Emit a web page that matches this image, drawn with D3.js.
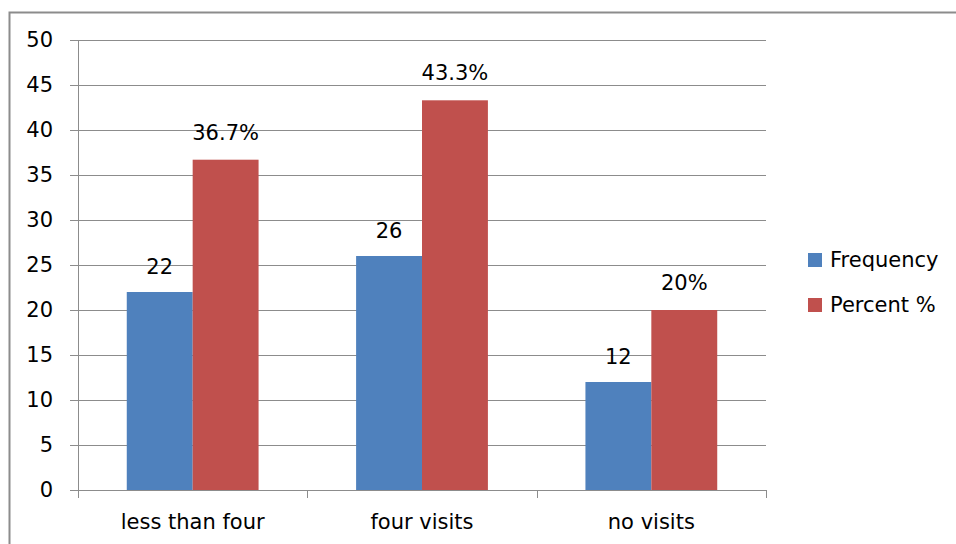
<!DOCTYPE html>
<html>
<head>
<meta charset="utf-8">
<script src="https://cdn.jsdelivr.net/npm/d3@7"></script>
<style>
body { margin: 0; background: #fff; }
text { font-family: "DejaVu Sans", sans-serif; fill: #000; }
</style>
</head>
<body>
<div class="chart"></div>
<script>
var categories = ['less than four', 'four visits', 'no visits']
var seriesNames = ['Frequency', 'Percent %']
var frequency = [22, 26, 12]
var percent = [36.7, 43.3, 20]
var percentLabels = ['36.7%', '43.3%', '20%']
var yTicks = [0, 5, 10, 15, 20, 25, 30, 35, 40, 45, 50]
var colors = ['#4f81bd', '#c0504d']

var width = 956
var height = 544
var margin = {top: 40, right: 190, bottom: 54, left: 78}
var fontSize = '21px'

var svg = d3.select('.chart')
  .append('svg')
  .attr('width', width)
  .attr('height', height)

// outer frame
svg.append('rect')
  .attr('x', 9.5)
  .attr('y', 12.5)
  .attr('width', 960)
  .attr('height', 560)
  .attr('fill', 'none')
  .attr('stroke', '#8c8c8c')
  .attr('stroke-width', 2)

var y = d3.scaleLinear()
  .domain([0, 50])
  .range([height - margin.bottom, margin.top])

var x0 = d3.scaleBand()
  .domain(categories)
  .range([margin.left, width - margin.right])
  .paddingInner(0)
  .paddingOuter(0)

var x1 = d3.scaleBand()
  .domain(seriesNames)
  .range([0, x0.bandwidth()])
  .paddingOuter(0.74)
  .paddingInner(0)

// gridlines
svg.append('g')
  .selectAll('line')
  .data(yTicks)
  .enter()
  .append('line')
  .attr('x1', margin.left - 8)
  .attr('x2', width - margin.right)
  .attr('y1', function(d) { return Math.round(y(d)) + 0.5 })
  .attr('y2', function(d) { return Math.round(y(d)) + 0.5 })
  .attr('stroke', '#8c8c8c')
  .attr('stroke-width', 1)

// y axis line
svg.append('line')
  .attr('x1', margin.left + 0.5)
  .attr('x2', margin.left + 0.5)
  .attr('y1', y(50))
  .attr('y2', y(0))
  .attr('stroke', '#8c8c8c')

// y tick labels
svg.append('g')
  .selectAll('text')
  .data(yTicks)
  .enter()
  .append('text')
  .attr('x', 53)
  .attr('y', function(d) { return y(d) })
  .attr('dy', '0.35em')
  .attr('text-anchor', 'end')
  .style('font-size', fontSize)
  .text(function(d) { return d })

// x category ticks
var xTickPos = [margin.left].concat(categories.map(function(c) { return x0(c) + x0.bandwidth() }))
svg.append('g')
  .selectAll('line')
  .data(xTickPos)
  .enter()
  .append('line')
  .attr('x1', function(d) { return Math.round(d) + 0.5 })
  .attr('x2', function(d) { return Math.round(d) + 0.5 })
  .attr('y1', y(0))
  .attr('y2', y(0) + 8)
  .attr('stroke', '#8c8c8c')

// bars
var groups = svg.append('g')
  .selectAll('g')
  .data(categories)
  .enter()
  .append('g')
  .attr('transform', function(c) { return 'translate(' + x0(c) + ',0)' })

groups.append('rect')
  .attr('x', x1('Frequency'))
  .attr('width', x1.bandwidth())
  .attr('y', function(c, i) { return y(frequency[i]) })
  .attr('height', function(c, i) { return y(0) - y(frequency[i]) })
  .attr('fill', colors[0])

groups.append('rect')
  .attr('x', x1('Percent %'))
  .attr('width', x1.bandwidth())
  .attr('y', function(c, i) { return y(percent[i]) })
  .attr('height', function(c, i) { return y(0) - y(percent[i]) })
  .attr('fill', colors[1])

// value labels
groups.append('text')
  .attr('x', x1('Frequency') + x1.bandwidth() / 2)
  .attr('y', function(c, i) { return y(frequency[i]) - 18 })
  .attr('text-anchor', 'middle')
  .style('font-size', fontSize)
  .text(function(c, i) { return frequency[i] })

groups.append('text')
  .attr('x', x1('Percent %') + x1.bandwidth() / 2)
  .attr('y', function(c, i) { return y(percent[i]) - 20 })
  .attr('text-anchor', 'middle')
  .style('font-size', fontSize)
  .text(function(c, i) { return percentLabels[i] })

// category labels
groups.append('text')
  .attr('x', x0.bandwidth() / 2)
  .attr('y', 529)
  .attr('text-anchor', 'middle')
  .style('font-size', fontSize)
  .text(function(c) { return c })

// legend
var legend = svg.append('g')
  .selectAll('g')
  .data(seriesNames)
  .enter()
  .append('g')
  .attr('transform', function(d, i) { return 'translate(808,' + (253 + i * 45) + ')' })

legend.append('rect')
  .attr('width', 14)
  .attr('height', 14)
  .attr('fill', function(d, i) { return colors[i] })

legend.append('text')
  .attr('x', 22)
  .attr('y', 7)
  .attr('dy', '0.35em')
  .style('font-size', fontSize)
  .text(function(d) { return d })
</script>
</body>
</html>
